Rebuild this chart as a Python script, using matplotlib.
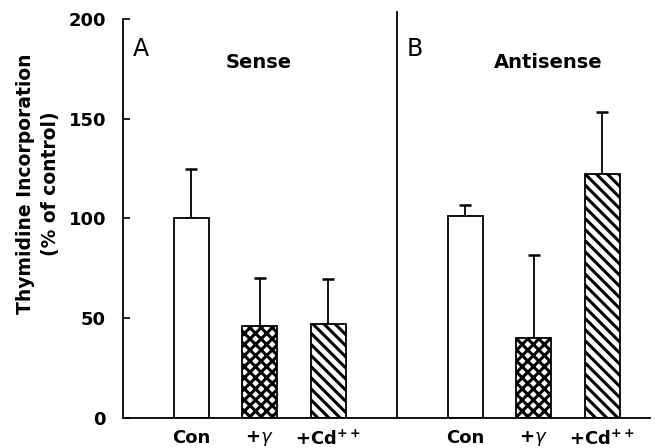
import matplotlib
matplotlib.use('Agg')
import matplotlib.pyplot as plt

# values (% of control)
groups = ['Sense', 'Antisense']
treatments = ['Con', '+$\\gamma$', '+Cd$^{\\mathbf{++}}$']
sense_mean = [100, 46, 47]
sense_err = [25, 24, 22.5]
antisense_mean = [101, 40, 122]
antisense_err = [5.5, 41.5, 31.5]

hatches = ['', 'xxx', '\\\\\\']

plt.rcParams['hatch.linewidth'] = 2.2
plt.rcParams['font.family'] = 'DejaVu Sans'

fig = plt.figure(figsize=(6.6, 4.48), dpi=100)
ax = fig.add_axes([0.186, 0.067, 0.799, 0.891])

pos_a = [0, 1, 2]
pos_b = [4, 5, 6]
for pos, mean, err in [(pos_a, sense_mean, sense_err), (pos_b, antisense_mean, antisense_err)]:
    for x, m, e, h in zip(pos, mean, err, hatches):
        ax.bar(x, m, width=0.51, color='white', edgecolor='black', linewidth=1.3,
               hatch=h, zorder=2)
        ax.errorbar(x, m, yerr=[[0], [e]], fmt='none', ecolor='black',
                    elinewidth=1.3, capsize=4.5, capthick=1.8, zorder=1)

# divider between panels
ax.plot([3, 3], [0, 203.5], color='black', linewidth=1.3, clip_on=False)

ax.set_xlim(-1, 6.7)
ax.set_ylim(0, 200)
ax.set_yticks([0, 50, 100, 150, 200])
ax.set_xticks(pos_a + pos_b)
ax.set_xticklabels(treatments * 2)
ax.tick_params(axis='y', direction='in', length=5, width=1.2, labelsize=13, pad=12)
ax.tick_params(axis='x', length=0, labelsize=13, pad=8)
for lbl in ax.get_yticklabels() + ax.get_xticklabels():
    lbl.set_fontweight('bold')

for s in ['top', 'right']:
    ax.spines[s].set_visible(False)
for s in ['left', 'bottom']:
    ax.spines[s].set_linewidth(1.3)

ax.text(-0.85, 185, 'A', fontsize=17, ha='left', va='center')
ax.text(3.15, 185, 'B', fontsize=17, ha='left', va='center')
ax.text(0.99, 178, groups[0], fontsize=14, fontweight='bold', ha='center', va='center')
ax.text(5.21, 178, groups[1], fontsize=14, fontweight='bold', ha='center', va='center')

fig.text(0.038, 0.59, 'Thymidine Incorporation', rotation=90, fontsize=13.5,
         fontweight='bold', ha='center', va='center')
fig.text(0.076, 0.59, '(% of control)', rotation=90, fontsize=13.5,
         fontweight='bold', ha='center', va='center')

fig.savefig('out.png', dpi=100)
